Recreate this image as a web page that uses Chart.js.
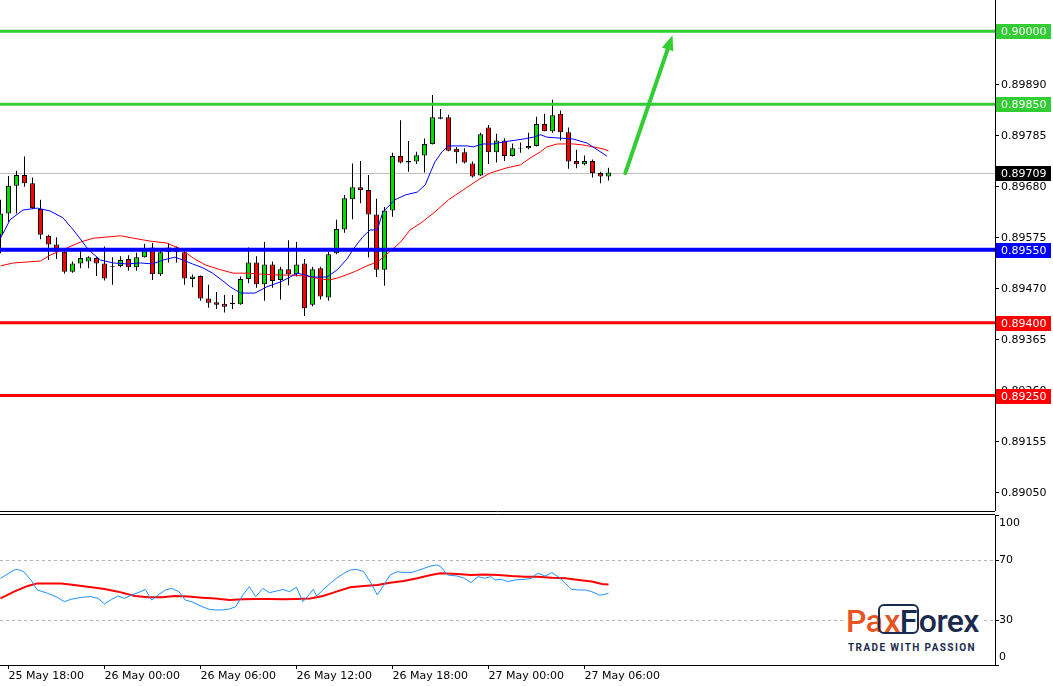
<!DOCTYPE html>
<html>
<head>
<meta charset="utf-8">
<script src="https://cdn.jsdelivr.net/npm/chart.js@4.4.1/dist/chart.umd.min.js"></script>
<style>
html,body{margin:0;padding:0;background:#fff;}
body{width:1053px;height:686px;position:relative;overflow:hidden;font-family:"DejaVu Sans",sans-serif;}
#mainWrap{position:absolute;left:0;top:0;width:1053px;height:512px;}
#rsiWrap{position:absolute;left:0;top:512px;width:1053px;height:174px;}
#logo{position:absolute;left:843px;top:600px;width:138px;height:56px;background:#fff;}
#logo .brand{position:absolute;left:3px;top:4px;font-family:Roboto,sans-serif;font-weight:500;font-size:32px;line-height:34px;color:#1b2a4e;letter-spacing:-0.6px;white-space:nowrap;}
#logo .o{color:#e8531f;}
#logo .box{display:inline-block;box-sizing:border-box;height:30px;line-height:30px;border:2px solid #1b2a4e;border-radius:6px;padding:0 0 0 4px;margin-left:-4px;}
#logo .tag{position:absolute;left:5px;top:42px;font-family:Roboto,sans-serif;font-weight:700;font-size:10px;letter-spacing:1.4px;color:#1b2a4e;white-space:nowrap;}
</style>
</head>
<body>
<div id="mainWrap"><canvas id="mainChart" width="1053" height="512"></canvas></div>
<div id="rsiWrap"><canvas id="rsiChart" width="1053" height="174"></canvas></div>
<div id="logo"><div class="brand"><span class="o">Pa</span><span class="box"><span class="o">x</span>F</span>orex</div><div class="tag">TRADE WITH PASSION</div></div>
<script>
// M30 candles, index 0 = 25 May 17:30
const opens=[0.89581,0.89625,0.89682,0.89704,0.89687,0.89634,0.89579,0.89561,0.89546,0.89505,0.89522,0.89526,0.89533,0.89522,0.89517,0.89517,0.89531,0.89514,0.89535,0.89555,0.89500,0.89545,0.89555,0.89545,0.89490,0.89496,0.89450,0.89442,0.89439,0.89438,0.89438,0.89490,0.89524,0.89479,0.89520,0.89488,0.89510,0.89500,0.89522,0.89437,0.89512,0.89452,0.89543,0.89592,0.89654,0.89679,0.89673,0.89623,0.89509,0.89631,0.89743,0.89733,0.89732,0.89744,0.89768,0.89820,0.89823,0.89758,0.89751,0.89728,0.89703,0.89802,0.89751,0.89775,0.89743,0.89759,0.89759,0.89764,0.89809,0.89794,0.89830,0.89792,0.89733,0.89726,0.89733,0.89708,0.89701];
const highs=[0.89653,0.89702,0.89713,0.89742,0.89699,0.89653,0.89581,0.89576,0.89548,0.89526,0.89550,0.89537,0.89535,0.89557,0.89535,0.89537,0.89539,0.89544,0.89562,0.89564,0.89550,0.89564,0.89557,0.89546,0.89499,0.89497,0.89478,0.89463,0.89457,0.89457,0.89495,0.89555,0.89537,0.89566,0.89526,0.89515,0.89570,0.89566,0.89531,0.89515,0.89515,0.89546,0.89612,0.89663,0.89728,0.89733,0.89704,0.89655,0.89638,0.89750,0.89817,0.89774,0.89752,0.89779,0.89869,0.89840,0.89828,0.89762,0.89759,0.89732,0.89791,0.89807,0.89789,0.89780,0.89769,0.89771,0.89791,0.89824,0.89830,0.89859,0.89837,0.89802,0.89756,0.89744,0.89736,0.89711,0.89719];
const lows=[0.89543,0.89608,0.89625,0.89680,0.89634,0.89572,0.89529,0.89531,0.89501,0.89503,0.89512,0.89512,0.89496,0.89487,0.89478,0.89514,0.89507,0.89507,0.89534,0.89488,0.89496,0.89524,0.89524,0.89478,0.89473,0.89445,0.89431,0.89428,0.89421,0.89428,0.89437,0.89481,0.89472,0.89445,0.89472,0.89448,0.89477,0.89495,0.89414,0.89434,0.89448,0.89445,0.89541,0.89585,0.89613,0.89646,0.89534,0.89494,0.89476,0.89618,0.89728,0.89711,0.89727,0.89709,0.89767,0.89819,0.89753,0.89728,0.89728,0.89699,0.89702,0.89727,0.89730,0.89733,0.89742,0.89750,0.89757,0.89763,0.89794,0.89791,0.89775,0.89717,0.89718,0.89724,0.89699,0.89687,0.89693];
const closes=[0.89625,0.89682,0.89704,0.89687,0.89636,0.89581,0.89561,0.89546,0.89505,0.89522,0.89533,0.89535,0.89522,0.89491,0.89515,0.89529,0.89514,0.89535,0.89550,0.89500,0.89545,0.89555,0.89545,0.89491,0.89495,0.89450,0.89441,0.89437,0.89433,0.89441,0.89490,0.89524,0.89479,0.89520,0.89486,0.89510,0.89500,0.89520,0.89430,0.89510,0.89454,0.89541,0.89593,0.89656,0.89679,0.89673,0.89623,0.89509,0.89631,0.89743,0.89730,0.89730,0.89745,0.89768,0.89823,0.89823,0.89754,0.89751,0.89730,0.89701,0.89788,0.89751,0.89775,0.89743,0.89759,0.89758,0.89764,0.89809,0.89794,0.89827,0.89792,0.89732,0.89726,0.89733,0.89708,0.89701,0.89709];

// moving averages (candle index, price)
const blueMaIdx=[0,1.2,2.8,4.6,6.2,7.8,9.3,11,12.5,14.1,15.8,17.5,19,20.3,21.8,22.8,24,25.3,26.5,27.8,28.7,30,31.8,33.3,35,36.2,37.1,38.1,39.1,40.8,42.1,43.3,44.3,45.3,46.2,47.1,47.8,49.3,50.6,52.1,53.1,53.7,54.3,55.2,56,58.3,59.1,60.3,61.6,62.8,65.3,66.6,67.5,68.3,70,71.6,73.3,74.6,75.8];
const blueMa=[0.89574,0.89612,0.89632,0.89636,0.89630,0.89616,0.89587,0.89550,0.89529,0.89523,0.89521,0.89523,0.89521,0.89529,0.89535,0.89529,0.89521,0.89513,0.89502,0.89486,0.89474,0.89461,0.89461,0.89474,0.89484,0.89494,0.89502,0.89498,0.89494,0.89494,0.89509,0.89531,0.89556,0.89577,0.89591,0.89591,0.89628,0.89653,0.89663,0.89669,0.89684,0.89708,0.89731,0.89752,0.89764,0.89764,0.89762,0.89768,0.89768,0.89772,0.89778,0.89782,0.89787,0.89782,0.89780,0.89778,0.89770,0.89756,0.89743];
const redMaIdx=[0,1.6,5,6.2,8.3,10,11.6,13.7,15,16.6,18.7,20.8,22.5,24.1,25.6,27.5,29.1,30.8,32.5,35,36.6,38.3,40,41.2,42.5,44.1,45.8,47.1,48.5,50,51.2,52.7,54.3,56,57.8,59.7,61.2,63.3,65,66.2,67.5,68.3,69.6,71.6,72.8,74.1,75.3,76];
const redMa=[0.89517,0.89523,0.89527,0.89539,0.89554,0.89566,0.89574,0.89577,0.89579,0.89574,0.89568,0.89564,0.89552,0.89533,0.89519,0.89509,0.89502,0.89502,0.89500,0.89498,0.89498,0.89496,0.89490,0.89488,0.89494,0.89504,0.89517,0.89525,0.89544,0.89566,0.89591,0.89607,0.89628,0.89653,0.89673,0.89694,0.89708,0.89719,0.89725,0.89739,0.89752,0.89762,0.89768,0.89768,0.89766,0.89762,0.89758,0.89754];

// RSI window
const rsiIdx=[0,1.7,2.1,2.9,3.8,4.6,5.9,7.1,8,8.8,10.1,11.3,12.2,13,13.9,14.7,15.5,16.4,17.2,18.1,18.9,19.7,20.6,21.4,22.3,23.1,23.9,25.2,26.1,26.9,27.7,28.6,29.4,30.3,31.1,31.9,32.8,33.6,34.5,35.3,36.1,37,37.8,38.7,39.1,39.5,40.3,41.2,42,42.9,43.7,44.5,45.4,46.2,47.1,47.9,48.7,49.6,50.4,51.3,52.1,52.9,53.8,54.6,55,55.9,57.1,58,58.8,59.7,60.5,61.3,61.8,62.6,63.4,64.3,65.5,66.4,66.8,67.2,68.1,68.9,69.7,70.6,71.4,72.3,73.1,73.9,74.8,75.2,76];
const rsiVals=[57.8,63.3,63.8,62.2,56.7,50,47.8,45.1,42.2,43.8,45.1,45.6,44.4,40.7,43.8,46,44.4,46.7,48.2,50.4,43.3,46.7,50,51.1,48.9,43.3,42.2,38.9,37.1,36.7,36.7,37.3,38.9,46.7,52.2,45.6,51.1,48.2,49.3,50.4,48.9,51.8,42.2,47.8,50.4,46,50,54.4,57.8,61.1,63.3,63.8,62.2,55.6,46.7,53.3,60,62.2,61.6,61.6,62.9,64.4,66,66.7,65.6,60,59.3,57.8,54.9,58.9,57.8,58.9,56.7,57.1,55.6,56.7,57.1,57.8,60,61.1,59.3,61.6,58.9,54.4,50.4,50,50,48.9,46.7,46.7,47.8];
const rsiMaIdx=[0,1.7,3.4,4.6,7.6,9.2,10.9,13,14.7,16.8,18.5,20.2,21.8,23.5,25.2,26.9,28.6,30.3,31.9,33.6,35.3,37,38.7,40.3,42,43.7,45.4,47.1,48.7,50.4,52.1,53.8,55,57.1,58.8,60.5,62.2,63.9,65.5,67.2,68.9,70.6,72.3,73.9,75.2,76];
const rsiMaVals=[44.4,48.9,52.7,54.4,54.4,53.3,52.2,50.7,48.9,46,45.1,45.1,46,45.6,44.9,44.4,43.3,43.8,44,44,43.8,44,44.4,46,48.9,51.8,52.7,53.3,54.9,56,57.8,60,61.1,60.7,60,60.4,60,59.3,58.9,58.9,58.2,57.8,56.7,55.6,54,53.6];

const priceTicks=[0.89050,0.89155,0.89260,0.89365,0.89470,0.89575,0.89680,0.89785,0.89890];
const levelPrices=[0.90000,0.89850,0.89550,0.89400,0.89250];
const lastPrice=0.89709;
const arrowFrom=[78.1,0.89708];
const arrowTo=[84.0,0.89992];
const timeTickIdx=[1,13,25,37,49,61,73];
const timeTickLabels=["25 May 18:00","26 May 00:00","26 May 06:00","26 May 12:00","26 May 18:00","27 May 00:00","27 May 06:00"];
const rsiTicks=[0,30,70,100];
const rsiLevels=[30,70];

// styles
const levelColors=["#32cd32","#32cd32","#0000ff","#ff0000","#ff0000"];
const levelWidths=[3,3,4,3,3];
const upColor="#00e000", downColor="#ff0000";
const xMin=-0.0625, xMax=124.3125;
const FONT={family:"DejaVu Sans",size:11};

function pts(xs,ys){return xs.map((x,i)=>({x:x,y:ys[i]}));}
function noPad(s){s.paddingTop=0;s.paddingBottom=0;s.paddingLeft=0;s.paddingRight=0;}

const mainDecor={
  id:"mainDecor",
  beforeDatasetsDraw(chart){
    const {ctx,chartArea:a,scales:{y}}=chart;
    const py=Math.round(y.getPixelForValue(lastPrice))+0.5;
    ctx.save();
    ctx.strokeStyle="#c0c0c0";ctx.lineWidth=1;
    ctx.beginPath();ctx.moveTo(a.left,py);ctx.lineTo(a.right,py);ctx.stroke();
    ctx.restore();
  },
  afterDatasetsDraw(chart){
    const {ctx,chartArea:a,scales:{x,y}}=chart;
    ctx.save();
    levelPrices.forEach((p,i)=>{
      const py=y.getPixelForValue(p);
      ctx.strokeStyle=levelColors[i];ctx.lineWidth=levelWidths[i];
      ctx.beginPath();ctx.moveTo(a.left,py);ctx.lineTo(a.right,py);ctx.stroke();
    });
    // arrow
    const x1=x.getPixelForValue(arrowFrom[0]),y1=y.getPixelForValue(arrowFrom[1]);
    const x2=x.getPixelForValue(arrowTo[0]),y2=y.getPixelForValue(arrowTo[1]);
    const ang=Math.atan2(y2-y1,x2-x1);
    const hl=15,hw=6;
    const bx=x2-hl*Math.cos(ang),by=y2-hl*Math.sin(ang);
    ctx.strokeStyle="#32cd32";ctx.fillStyle="#32cd32";ctx.lineWidth=4;ctx.lineCap="round";
    ctx.beginPath();ctx.moveTo(x1,y1);ctx.lineTo(bx,by);ctx.stroke();
    ctx.beginPath();
    ctx.moveTo(x2,y2);
    ctx.lineTo(bx+hw*Math.sin(ang),by-hw*Math.cos(ang));
    ctx.lineTo(bx-hw*Math.sin(ang),by+hw*Math.cos(ang));
    ctx.closePath();ctx.fill();
    ctx.restore();
  },
  afterDraw(chart){
    const {ctx,chartArea:a,scales:{y}}=chart;
    ctx.save();
    ctx.strokeStyle="#000";ctx.lineWidth=1;
    ctx.beginPath();ctx.moveTo(0,a.bottom+1.5);ctx.lineTo(a.right,a.bottom+1.5);ctx.stroke();
    ctx.font="11px 'DejaVu Sans'";ctx.textBaseline="middle";ctx.textAlign="left";
    const box=(p,col)=>{
      const py=Math.round(y.getPixelForValue(p));
      ctx.fillStyle=col;ctx.fillRect(a.right+1,py-7,55,15);
      ctx.fillStyle="#fff";ctx.fillText(p.toFixed(5),a.right+6,py+1);
    };
    levelPrices.forEach((p,i)=>box(p,levelColors[i]));
    box(lastPrice,"#000");
    ctx.restore();
  }
};

new Chart(document.getElementById("mainChart"),{
  type:"bar",
  data:{datasets:[
    {type:"line",data:pts(blueMaIdx,blueMa),borderColor:"#0000ff",borderWidth:1,pointRadius:0,order:0},
    {type:"line",data:pts(redMaIdx,redMa),borderColor:"#ff0000",borderWidth:1,pointRadius:0,order:0},
    {data:opens.map((o,i)=>({x:i,y:[o,closes[i]]})),
     backgroundColor:opens.map((o,i)=>closes[i]>=o?upColor:downColor),
     borderColor:"#000",borderWidth:1,borderSkipped:false,barThickness:5,grouped:false,inflateAmount:0,order:1},
    {data:opens.map((o,i)=>({x:i,y:[lows[i],highs[i]]})),
     backgroundColor:"#000",borderWidth:0,barThickness:1,grouped:false,inflateAmount:0,order:2}
  ]},
  options:{
    responsive:false,animation:false,events:[],
    layout:{padding:{top:0,bottom:2,left:0,right:0}},
    plugins:{legend:{display:false},tooltip:{enabled:false}},
    scales:{
      x:{type:"linear",min:xMin,max:xMax,offset:false,display:false,grid:{offset:false}},
      y:{type:"linear",position:"right",min:0.890144,max:0.900644,
        afterBuildTicks:s=>{s.ticks=priceTicks.map(v=>({value:v}));},
        afterFit:s=>{s.width=58;noPad(s);},
        ticks:{color:"#000",font:FONT,padding:2,callback:v=>Number(v).toFixed(5)},
        grid:{drawOnChartArea:false,tickLength:4,color:"#000"},
        border:{display:true,color:"#000"}}
    }
  },
  plugins:[mainDecor]
});

const rsiDecor={
  id:"rsiDecor",
  beforeDatasetsDraw(chart){
    const {ctx,chartArea:a,scales:{y}}=chart;
    ctx.save();
    ctx.strokeStyle="#b4b4b4";ctx.lineWidth=1;ctx.setLineDash([3,3]);
    rsiLevels.forEach(v=>{
      const py=Math.round(y.getPixelForValue(v))+0.5;
      ctx.beginPath();ctx.moveTo(a.left,py);ctx.lineTo(a.right,py);ctx.stroke();
    });
    ctx.restore();
  },
  afterDraw(chart){
    const {ctx,chartArea:a,scales:{y}}=chart;
    ctx.save();
    ctx.strokeStyle="#000";ctx.lineWidth=1;
    ctx.beginPath();ctx.moveTo(0,a.top-0.5);ctx.lineTo(a.right,a.top-0.5);ctx.stroke();
    ctx.fillStyle="#000";ctx.font="11px 'DejaVu Sans'";ctx.textBaseline="middle";ctx.textAlign="left";
    rsiTicks.forEach(v=>{
      let py=y.getPixelForValue(v);
      if(v===y.max) py+=8;
      if(v===y.min) py-=8;
      ctx.fillText(String(v),a.right+4,py);
    });
    ctx.restore();
  }
};

new Chart(document.getElementById("rsiChart"),{
  type:"line",
  data:{datasets:[
    {data:pts(rsiMaIdx,rsiMaVals),borderColor:"#ff0000",borderWidth:2,pointRadius:0,order:1},
    {data:pts(rsiIdx,rsiVals),borderColor:"#1e90ff",borderWidth:1,pointRadius:0,order:0}
  ]},
  options:{
    responsive:false,animation:false,events:[],
    layout:{padding:{top:3,bottom:0,left:0,right:0}},
    plugins:{legend:{display:false},tooltip:{enabled:false}},
    scales:{
      x:{type:"linear",min:xMin,max:xMax,offset:false,
        afterBuildTicks:s=>{s.ticks=timeTickIdx.map(v=>({value:v}));},
        afterFit:s=>{s.height=21;noPad(s);},
        ticks:{color:"#000",font:FONT,align:"start",autoSkip:false,maxRotation:0,padding:1,
          callback:v=>timeTickLabels[timeTickIdx.indexOf(v)]},
        grid:{drawOnChartArea:false,tickLength:4,color:"#000"},
        border:{display:true,color:"#000"}},
      y:{type:"linear",position:"right",min:0,max:100,
        afterBuildTicks:s=>{s.ticks=rsiTicks.map(v=>({value:v}));},
        afterFit:s=>{s.width=58;noPad(s);},
        ticks:{display:false},
        grid:{drawOnChartArea:false,tickLength:4,color:"#000"},
        border:{display:true,color:"#000"}}
    }
  },
  plugins:[rsiDecor]
});
</script>
</body>
</html>
